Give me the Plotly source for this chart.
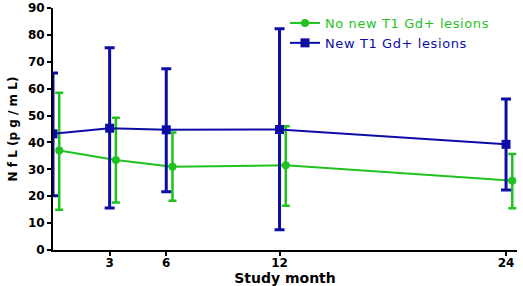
import plotly.graph_objects as go

months = [0, 3, 6, 12, 24]
green_offset = 0.33

no_new_mean = [37.0, 33.5, 31.0, 31.5, 25.8]
no_new_upper = [58.5, 49.2, 43.7, 46.0, 35.7]
no_new_lower = [15.0, 17.7, 18.3, 16.5, 15.5]

new_mean = [43.2, 45.3, 44.7, 44.8, 39.3]
new_upper = [65.8, 75.2, 67.4, 82.3, 56.2]
new_lower = [20.2, 15.6, 21.7, 7.5, 22.3]

x_ticks = [3, 6, 12, 24]
y_ticks = list(range(0, 91, 10))

GREEN = "#1fc21f"
BLUE = "#0d0da6"
FONT = "DejaVu Sans, Liberation Sans, Arial, sans-serif"

fig = go.Figure()
fig.add_trace(go.Scatter(
    x=[m + green_offset for m in months], y=no_new_mean, mode="lines+markers",
    name=f"<span style='color:{GREEN};letter-spacing:0.6px'>No new T1 Gd+ lesions</span>",
    line=dict(color=GREEN, width=2), marker=dict(symbol="circle", size=8, color=GREEN),
    error_y=dict(type="data", symmetric=False,
                 array=[u - m for u, m in zip(no_new_upper, no_new_mean)],
                 arrayminus=[m - l for l, m in zip(no_new_lower, no_new_mean)],
                 color=GREEN, thickness=2.5, width=4),
))
fig.add_trace(go.Scatter(
    x=months, y=new_mean, mode="lines+markers",
    name=f"<span style='color:{BLUE};letter-spacing:0.6px'>New T1 Gd+ lesions</span>",
    line=dict(color=BLUE, width=2), marker=dict(symbol="square", size=9, color=BLUE),
    error_y=dict(type="data", symmetric=False,
                 array=[u - m for u, m in zip(new_upper, new_mean)],
                 arrayminus=[m - l for l, m in zip(new_lower, new_mean)],
                 color=BLUE, thickness=3, width=5),
))

axis_font = dict(family=FONT, size=12, color="black")
fig.update_layout(
    width=523, height=286,
    margin=dict(l=53, r=6, t=8, b=36),
    plot_bgcolor="white", paper_bgcolor="white",
    font=dict(family=FONT, color="black"),
    showlegend=True,
    legend=dict(x=0.5, y=1.0, xanchor="left", yanchor="top",
                font=dict(size=13), bgcolor="rgba(0,0,0,0)",
                tracegroupgap=0, itemwidth=30),
    xaxis=dict(range=[0, 24.58], tickvals=x_ticks, ticktext=[f"<b>{t}</b>" for t in x_ticks],
               showgrid=False, zeroline=False, showline=True, linecolor="black", linewidth=2,
               ticks="outside", tickwidth=2, ticklen=4, tickcolor="black", tickfont=axis_font,
               automargin=False, ticklabelstandoff=-3, ticklabeloverflow="allow",
               title=dict(text="<b>Study month</b>", font=dict(size=14), standoff=0)),
    yaxis=dict(range=[0, 90], tickvals=y_ticks, ticktext=[f"<b>{t}</b>" for t in y_ticks],
               showgrid=False, zeroline=False, showline=True, linecolor="black", linewidth=2,
               ticks="outside", tickwidth=2, ticklen=4, tickcolor="black", tickfont=axis_font,
               automargin=False, ticklabeloverflow="allow",
               title=dict(text="<b>N f L (p g / m L)</b>",
                          font=dict(size=12), standoff=8)),
)

fig.write_html("out.html", config={"displayModeBar": False},
               post_script="document.body.style.margin='0';")
